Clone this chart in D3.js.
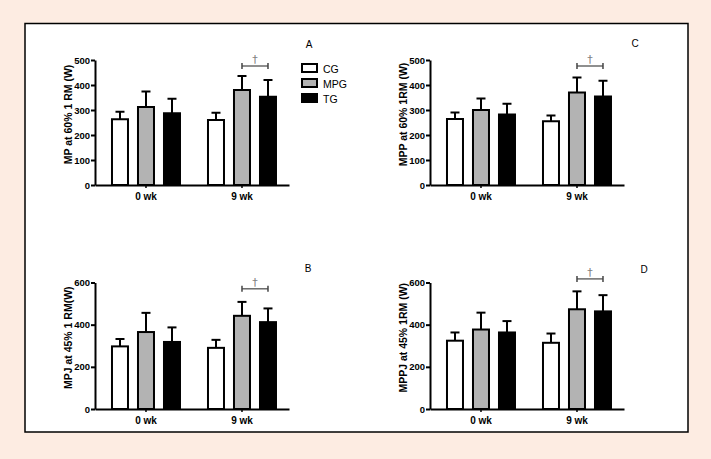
<!DOCTYPE html>
<html><head><meta charset="utf-8">
<script src="https://cdn.jsdelivr.net/npm/d3@7"></script>
<style>
html,body{margin:0;padding:0;background:#fdece2;}
svg{display:block;font-family:"Liberation Sans",Arial,sans-serif;}
</style></head>
<body>
<svg id="chart" width="711" height="459"></svg>
<script>
// ---- data ----
const groups = ["0 wk", "9 wk"];
const series = ["CG", "MPG", "TG"];
const seriesFill = ["#ffffff", "#b3b3b3", "#000000"];

// means [series][group], upper SD [series][group]
const meanA = [[263, 260], [312, 380], [287, 353]];
const sdA   = [[30, 29], [62, 56], [58, 67]];
const meanB = [[297, 290], [365, 442], [318, 412]];
const sdB   = [[35, 38], [91, 66], [69, 65]];
const meanC = [[264, 255], [300, 370], [282, 354]];
const sdC   = [[26, 23], [46, 60], [43, 63]];
const meanD = [[324, 314], [377, 473], [363, 463]];
const sdD   = [[39, 44], [80, 85], [54, 77]];

const ticks500 = [0, 100, 200, 300, 400, 500];
const ticks600 = [0, 200, 400, 600];

const labels = ["MP at 60% 1 RM (W)", "MPJ at 45% 1 RM(W)", "MPP at 60% 1RM (W)", "MPPJ at 45% 1RM (W)"];
const letters = ["A", "B", "C", "D"];
const sigValue = [476, 570, 476, 617];

// ---- layout ----
const svg = d3.select("#chart");
svg.append("rect").attr("x",0).attr("y",0).attr("width",711).attr("height",459).attr("fill","#fdece2");
svg.append("rect").attr("x",25).attr("y",23.5).attr("width",663).attr("height",408.5)
  .attr("fill","#ffffff").attr("stroke","#000").attr("stroke-width",1.5);

const panels = [
  {mean: meanA, sd: sdA, ticks: ticks500, max: 500, left: 95, top: 60, bottom: 185, letterX: 309, letterY: 48, legend: true},
  {mean: meanB, sd: sdB, ticks: ticks600, max: 600, left: 95, top: 282.5, bottom: 409, letterX: 308, letterY: 272},
  {mean: meanC, sd: sdC, ticks: ticks500, max: 500, left: 430, top: 60, bottom: 185, letterX: 635, letterY: 47},
  {mean: meanD, sd: sdD, ticks: ticks600, max: 600, left: 430, top: 282.5, bottom: 409, letterX: 644, letterY: 273}
];

panels.forEach((p, i) => {
  const g = svg.append("g");
  const x0 = d3.scaleBand().domain(groups).range([p.left, p.left + 194])
    .paddingInner(0.2708).paddingOuter(0.1458).align(0.571);
  const x1 = d3.scaleBand().domain(series).range([0, x0.bandwidth()]).paddingInner(0.3077).paddingOuter(0);
  const y = d3.scaleLinear().domain([0, p.max]).range([p.bottom, p.top]);

  const rows = [];
  series.forEach((s, si) => groups.forEach((gr, gi) => {
    rows.push({s, si, gr, m: p.mean[si][gi], e: p.sd[si][gi]});
  }));
  // error bars (upper only)
  rows.forEach(r => {
    const cx = x0(r.gr) + x1(r.s) + x1.bandwidth() / 2;
    g.append("line").attr("x1", cx).attr("x2", cx).attr("y1", y(r.m)).attr("y2", y(r.m + r.e))
      .attr("stroke", "#000").attr("stroke-width", 2);
    g.append("line").attr("x1", cx - 4.5).attr("x2", cx + 4.5).attr("y1", y(r.m + r.e)).attr("y2", y(r.m + r.e))
      .attr("stroke", "#000").attr("stroke-width", 2);
  });
  g.selectAll("rect.bar").data(rows).join("rect").attr("class", "bar")
    .attr("x", d => x0(d.gr) + x1(d.s) + 1)
    .attr("width", x1.bandwidth() - 2)
    .attr("y", d => y(d.m))
    .attr("height", d => y(0) - y(d.m))
    .attr("fill", d => seriesFill[d.si])
    .attr("stroke", "#000").attr("stroke-width", 2);

  // axes
  const ya = g.append("g").attr("transform", `translate(${p.left},0)`)
    .call(d3.axisLeft(y).tickValues(p.ticks).tickSize(4).tickPadding(1).tickSizeOuter(0));
  ya.select(".domain").attr("stroke-width", 2);
  ya.selectAll(".tick line").attr("stroke-width", 2);
  ya.selectAll("text").attr("font-size", "9.5px").attr("font-weight", "bold").attr("fill", "#000")
    .attr("font-family", "Liberation Sans, Arial, sans-serif");

  const xa = g.append("g").attr("transform", `translate(0,${p.bottom})`)
    .call(d3.axisBottom(x0).tickSize(3).tickPadding(5).tickSizeOuter(0));
  xa.select(".domain").attr("stroke-width", 2);
  xa.selectAll(".tick line").attr("stroke-width", 1.5);
  xa.selectAll("text").attr("font-size", "10px").attr("font-weight", "bold").attr("fill", "#000")
    .attr("font-family", "Liberation Sans, Arial, sans-serif");

  // y label
  g.append("text")
    .attr("transform", `translate(${p.left - 23},${(p.top + p.bottom) / 2 - 8}) rotate(-90)`)
    .attr("text-anchor", "middle").attr("font-size", "10.5px").attr("font-weight", "bold")
    .text(labels[i]);

  // panel letter
  g.append("text").attr("x", p.letterX).attr("y", p.letterY).attr("font-size", "10px")
    .attr("text-anchor", "middle").text(letters[i]);

  // significance bracket between MPG and TG at 9 wk
  const xa1 = x0(groups[1]) + x1("MPG") + x1.bandwidth() / 2;
  const xa2 = x0(groups[1]) + x1("TG") + x1.bandwidth() / 2;
  const sy = y(sigValue[i]);
  const bc = "#444";
  g.append("line").attr("x1", xa1).attr("x2", xa2).attr("y1", sy).attr("y2", sy).attr("stroke", bc).attr("stroke-width", 1.2);
  g.append("line").attr("x1", xa1).attr("x2", xa1).attr("y1", sy - 3).attr("y2", sy + 3).attr("stroke", bc).attr("stroke-width", 1.5);
  g.append("line").attr("x1", xa2).attr("x2", xa2).attr("y1", sy - 3).attr("y2", sy + 3).attr("stroke", bc).attr("stroke-width", 1.5);
  g.append("g").attr("opacity", 0.99)
    .append("text").attr("x", (xa1 + xa2) / 2).attr("y", sy - 3).attr("text-anchor", "middle")
    .attr("font-size", "11px").attr("font-family", "DejaVu Sans, sans-serif")
    .attr("fill", "#808080").text("†");

  // legend
  if (p.legend) {
    series.forEach((s, si) => {
      g.append("rect").attr("x", 302).attr("y", 64 + si * 15).attr("width", 15).attr("height", 8)
        .attr("fill", seriesFill[si]).attr("stroke", "#000").attr("stroke-width", 2);
      g.append("text").attr("x", 323).attr("y", 72.5 + si * 15).attr("font-size", "10.5px").text(s);
    });
  }
});
</script>
</body></html>
